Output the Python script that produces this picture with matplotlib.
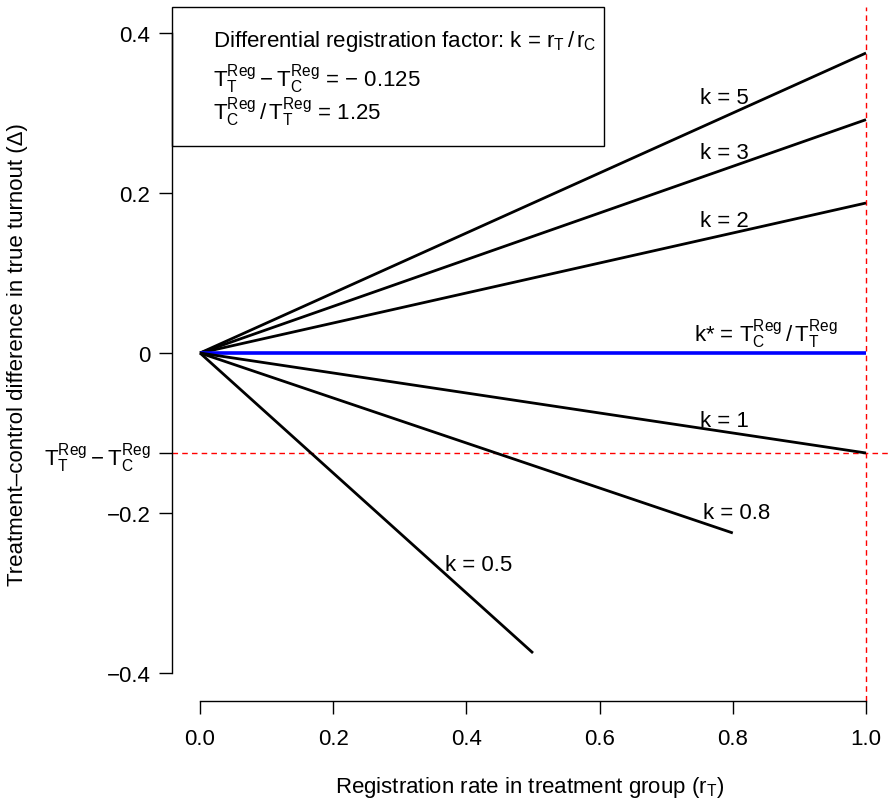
import numpy as np
import matplotlib.pyplot as plt
from matplotlib.patches import Rectangle

plt.rcParams['font.family'] = ['Liberation Sans', 'DejaVu Sans']
plt.rcParams['mathtext.fontset'] = 'custom'
plt.rcParams['mathtext.rm'] = 'Liberation Sans'
plt.rcParams['mathtext.it'] = 'Liberation Sans'
plt.rcParams['mathtext.default'] = 'regular'

FS = 16

# end points of each Delta(r_T) line, all starting at the origin
k_labels = ['k = 5', 'k = 3', 'k = 2',
            r'k* = $T_C^{Reg}\,/\,T_T^{Reg}$',
            'k = 1', 'k = 0.8', 'k = 0.5']
end_x = [1.0, 1.0, 1.0, 1.0, 1.0, 0.8, 0.5]
end_y = [0.375, 0.2917, 0.1875, 0.0, -0.125, -0.225, -0.375]
line_colors = ['black', 'black', 'black', 'blue', 'black', 'black', 'black']

# where each k label sits
lab_x = [0.788, 0.788, 0.788, 0.85, 0.788, 0.806, 0.419]
lab_y = [0.32, 0.251, 0.166, 0.024, -0.085, -0.199, -0.264]

diff_reg = -0.125   # T_T^Reg - T_C^Reg
ratio_reg = 1.25    # T_C^Reg / T_T^Reg

yticks = [-0.4, -0.2, 0.0, 0.2, 0.4]
ytick_labels = ['\u22120.4', '\u22120.2', '0', '0.2', '0.4']
xticks = [0.0, 0.2, 0.4, 0.6, 0.8, 1.0]

fig = plt.figure(figsize=(8.88, 8.03), dpi=100)
ax = fig.add_axes([172 / 888, 101 / 803, 716 / 888, 694 / 803])
ax.set_xlim(-28 / 666, 1 + 22 / 666)
ax.set_ylim(-348 / 800, 346 / 800)

for xe, ye, c in zip(end_x, end_y, line_colors):
    ax.plot([0, xe], [0, ye], color=c, lw=2.6 if c == 'blue' else 2.0,
            solid_capstyle='butt', zorder=3)

for t, x, y in zip(k_labels, lab_x, lab_y):
    ax.text(x, y, t, fontsize=FS, ha='center', va='center')

ax.axhline(diff_reg, color='red', lw=1.0, ls=(0, (4, 3)), zorder=2)
ax.axvline(1.0, color='red', lw=1.0, ls=(0, (4, 3)), zorder=2)

# axes in base-graphics style
for s in ['top', 'right']:
    ax.spines[s].set_visible(False)
ax.spines['left'].set_bounds(-0.4, 0.4)
ax.spines['bottom'].set_bounds(0, 1)
ax.spines['left'].set_linewidth(1.0)
ax.spines['bottom'].set_linewidth(1.0)

ax.set_yticks(yticks + [diff_reg])
ax.set_yticklabels(ytick_labels + [r'$T_T^{Reg} - T_C^{Reg}$'])
ax.set_xticks(xticks)
ax.set_xticklabels([f'{v:.1f}' for v in xticks])
ax.tick_params(axis='both', length=9.5, width=1.0, labelsize=FS)
ax.tick_params(axis='x', pad=10)
ax.tick_params(axis='y', pad=6)

ax.set_xlabel(r'Registration rate in treatment group ($r_T$)', fontsize=FS, labelpad=18)
fig.text(18 / 888, 1 - 355 / 803, 'Treatment\u2013control difference in true turnout (\u0394)',
         rotation=90, fontsize=FS, ha='center', va='center')

# legend-like box in the top left corner
box = Rectangle((-28 / 666, (354 - 147) / 800), (604 - 172) / 666, 139 / 800,
                fill=False, edgecolor='black', lw=1.0, clip_on=False, zorder=4)
ax.add_patch(box)
info = [r'Differential registration factor: k = $r_T\,/\,r_C$',
        r'$T_T^{Reg} - T_C^{Reg}$ = ' + '\u2212 ' + f'{abs(diff_reg):g}',
        r'$T_C^{Reg}\,/\,T_T^{Reg}$ = ' + f'{ratio_reg:g}']
info_y = [0.39, 0.3425, 0.301]
for t, y in zip(info, info_y):
    ax.text(13 / 666, y, t, fontsize=FS, ha='left', va='center')

fig.savefig('out.png', dpi=100)
